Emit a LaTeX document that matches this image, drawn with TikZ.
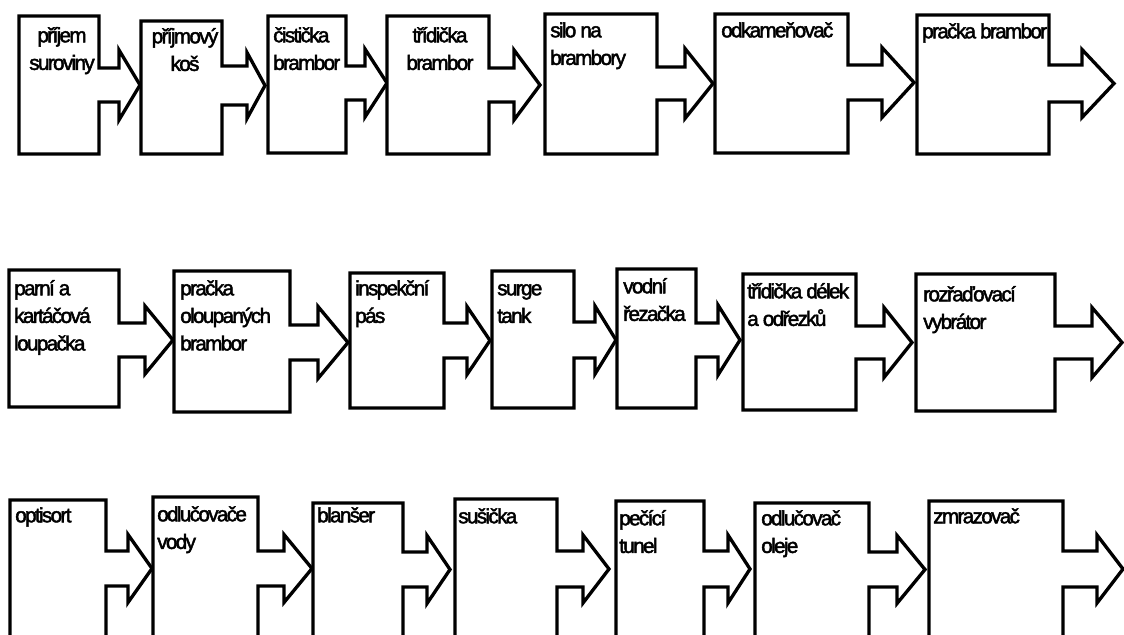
\documentclass[tikz,border=0pt]{standalone}
\usepackage{fontspec}
\setmainfont{Liberation Sans}[LetterSpace=-8,FakeBold=2.2]
\newcommand{\fshape}[9]{%
  \draw[shp] (#1,#2) -- (#3,#2) -- (#3,#5) -- (#7,#5) -- (#7,{(#5+#6)/2-#8})
    -- (#9,{(#5+#6)/2}) -- (#7,{(#5+#6)/2+#8}) -- (#7,#6) -- (#3,#6)
    -- (#3,#4) -- (#1,#4) -- cycle;}
\newcommand{\bl}{19.3}
\begin{document}
\begin{tikzpicture}[x=0.75pt,y=-0.75pt,
  shp/.style={draw=black,line width=2.5pt,line join=miter,fill=white},
  lbl/.style={anchor=north west,inner sep=0pt,align=left,text=black,
    font=\fontsize{15.5}{20.7}\selectfont},
  lblc/.style={lbl,anchor=north,align=center}]
\useasboundingbox (0,0) rectangle (1124,635);
\clip (0,0) rectangle (1124,635);
\fill[white] (0,0) rectangle (1124,635);
% row 1
\fshape{19}{16}{99}{154}{68}{102}{119}{35}{140}
\fshape{141}{21}{222}{154}{66}{105}{247}{33}{265}
\fshape{268}{16}{346}{153}{66}{100}{365}{34}{387}
\fshape{387}{16}{489}{154}{68}{102}{514}{35}{540}
\fshape{545}{14}{657}{154}{67}{100}{685}{35}{713}
\fshape{715}{14}{848}{153}{65}{100}{882}{35}{914}
\fshape{917}{15}{1049}{154}{65}{102}{1082}{34}{1114}
% row 2
\fshape{9}{270}{119}{407}{323}{357}{145}{34}{173}
\fshape{174}{271}{290}{412}{325}{360}{318}{36}{348}
\fshape{350}{273}{444}{408}{323}{358}{467}{34}{490}
\fshape{492}{271}{574}{408}{322}{358}{595}{34}{616}
\fshape{617}{269}{696}{408}{323}{357}{718}{35}{740}
\fshape{743}{274}{856}{410}{326}{359}{884}{35}{912}
\fshape{916}{274}{1055}{411}{326}{359}{1092}{35}{1122}
% row 3
\fshape{10}{500}{106}{650}{551}{586}{128}{34}{152}
\fshape{153}{497}{258}{650}{551}{586}{284}{34}{312}
\fshape{313}{503}{403}{650}{552}{587}{427}{34}{450}
\fshape{455}{499}{557}{650}{551}{587}{583}{34}{609}
\fshape{616}{501}{704}{650}{551}{587}{728}{34}{750}
\fshape{755}{503}{869}{650}{552}{587}{897}{34}{925}
\fshape{929}{501}{1063}{650}{551}{587}{1097}{34}{1123}
% labels row 1
\node[lblc] (t1) at (62,{42-\bl}) {\strut příjem\\suroviny};
\node[lblc] (t2) at (185,{43-\bl}) {\strut příjmový\\koš};
\node[lbl] (t3) at (273,{42-\bl}) {\strut čistička\\brambor};
\node[lblc] (t4) at (440,{42-\bl}) {\strut třídička\\brambor};
\node[lbl] (t5) at (550,{37-\bl}) {\strut silo na\\brambory};
\node[lbl] (t6) at (721,{37-\bl}) {\strut odkameňovač};
\node[lbl] (t7) at (922,{38-\bl}) {\strut pračka brambor};
% labels row 2
\node[lbl] (t8) at (14,{295-\bl}) {\strut parní a\\kartáčová\\loupačka};
\node[lbl] (t9) at (180,{295-\bl}) {\strut pračka\\oloupaných\\brambor};
\node[lbl] (t10) at (355,{295-\bl}) {\strut inspekční\\pás};
\node[lbl] (t11) at (497,{295-\bl}) {\strut surge\\tank};
\node[lbl] (t12) at (623,{293-\bl}) {\strut vodní\\řezačka};
\node[lbl] (t13) at (747,{298-\bl}) {\strut třídička délek\\a odřezků};
\node[lbl] (t14) at (923,{301-\bl}) {\strut rozřaďovací\\vybrátor};
% labels row 3
\node[lbl] (t15) at (15,{522-\bl}) {\strut optisort};
\node[lbl] (t16) at (157,{521-\bl}) {\strut odlučovače\\vody};
\node[lbl] (t17) at (317,{522-\bl}) {\strut blanšer};
\node[lbl] (t18) at (458,{523-\bl}) {\strut sušička};
\node[lbl] (t19) at (619,{525-\bl}) {\strut pečící\\tunel};
\node[lbl] (t20) at (761,{525-\bl}) {\strut odlučovač\\oleje};
\node[lbl] (t21) at (933,{523-\bl}) {\strut zmrazovač};
\end{tikzpicture}
\end{document}
